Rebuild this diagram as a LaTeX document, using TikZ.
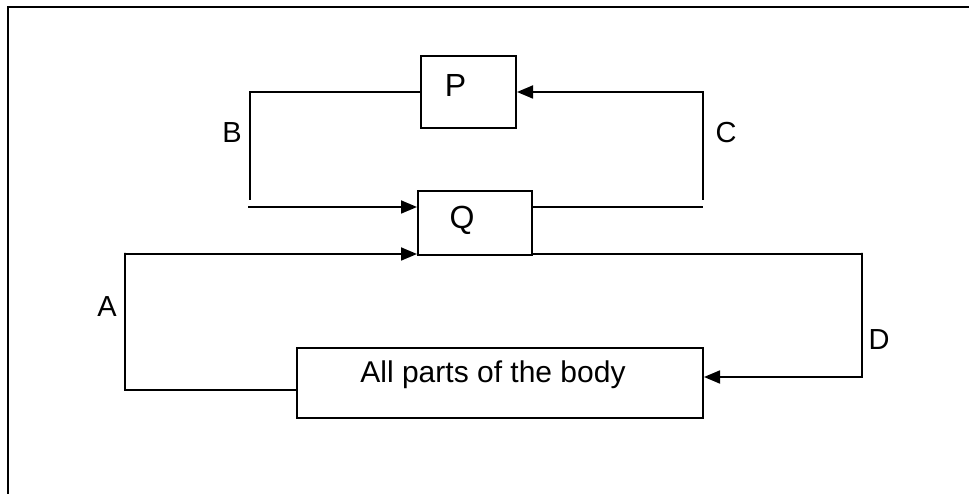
\documentclass[tikz,border=0pt]{standalone}
\usepackage{fontspec}
\setmainfont{Liberation Sans}
\usetikzlibrary{arrows.meta}
\begin{document}
\begin{tikzpicture}[x=1pt,y=-1pt,
  box/.style={draw, line width=2pt, minimum width=#1, inner sep=0pt},
  lbl/.style={font=\fontsize{29}{32}\selectfont},
  body/.style={font=\fontsize{30}{33}\selectfont},
  big/.style={font=\fontsize{32}{35}\selectfont},
  wire/.style={line width=1.8pt},
  arr/.style={wire, -{Triangle[length=16pt,width=13pt]}}]
\useasboundingbox (0,0) rectangle (969,494);
% frame (top and left edges visible)
\coordinate (f1) at (969,7);
\coordinate (f2) at (8,7);
\coordinate (f3) at (8,494);
\draw[line width=2pt] (f1) -- (f2) -- (f3);
% boxes
\node[box=95pt, minimum height=72pt, label={[big, xshift=-13pt, yshift=7pt]center:P}] (P) at (468.5,92) {};
\node[box=114pt, minimum height=64pt, label={[big, xshift=-13pt, yshift=3pt]center:Q}] (Q) at (475,223) {};
\node[box=406pt, minimum height=70pt, label={[body, xshift=-7pt, yshift=8pt]center:All parts of the body}] (body) at (500,383) {};
% B loop
\coordinate (bB) at (250,200);
\coordinate (bS) at (248,207);
\draw[wire] (P.west) -| (bB);
\draw[arr] (bS) -- (Q.west |- bS);
\node[lbl] (B) at (232,133) {B};
% C loop
\coordinate (cB) at (703,207);
\coordinate (cV) at (703,200);
\draw[wire] (Q.east |- cB) -- (cB);
\draw[arr] (cV) |- (P.east);
\node[lbl] (C) at (726,133) {C};
% D loop
\coordinate (dR) at (862,253);
\draw[arr] ([yshift=2pt]Q.south east) -| (dR) |- ([yshift=6pt]body.east);
\node[lbl] (D) at (879,340) {D};
% A loop
\coordinate (aC) at (125,253);
\draw[arr] ([yshift=-7pt]body.west) -| (aC) |- ([yshift=2pt]Q.south west);
\node[lbl] (A) at (107,307) {A};
\end{tikzpicture}
\end{document}
